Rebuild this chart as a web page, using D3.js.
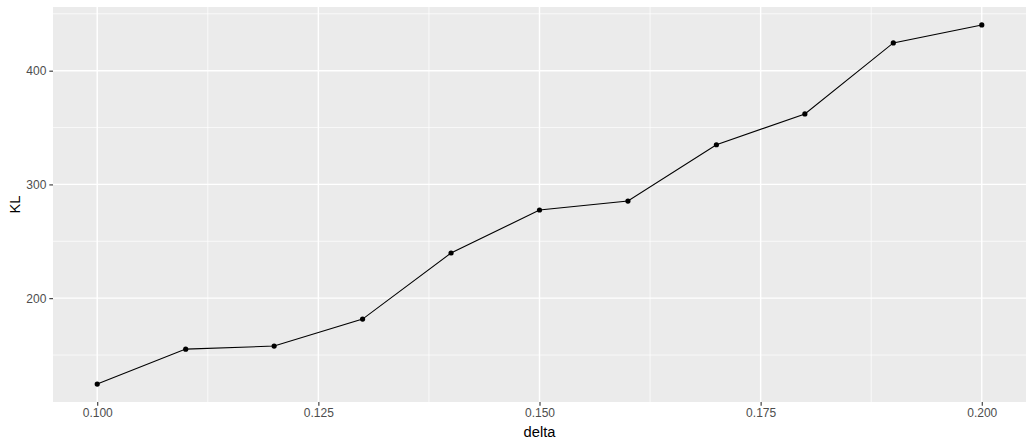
<!DOCTYPE html>
<html>
<head>
<meta charset="utf-8">
<script src="https://cdn.jsdelivr.net/npm/d3@7"></script>
<style>
  body { margin: 0; background: #fff; }
  svg { display: block; }
  text { font-family: "Liberation Sans", Arial, sans-serif; }
</style>
</head>
<body>
<svg id="chart" width="1034" height="447"></svg>
<script>
const delta = [0.10, 0.11, 0.12, 0.13, 0.14, 0.15, 0.16, 0.17, 0.18, 0.19, 0.20];
const KL = [124.5, 155.2, 157.9, 181.6, 239.7, 277.5, 285.4, 334.9, 362.0, 424.4, 440.2];
const xTicks = [0.100, 0.125, 0.150, 0.175, 0.200];
const xMinor = [0.1125, 0.1375, 0.1625, 0.1875];
const yTicks = [200, 300, 400];
const yMinor = [150, 250, 350, 450];

(function () {
const svg = d3.select("#chart");
const pLeft = 53, pRight = 1026, pTop = 7, pBottom = 402;

const xMin = d3.min(delta), xMax = d3.max(delta);
const xPad = (xMax - xMin) * 0.05;
const yMin = d3.min(KL), yMax = d3.max(KL);
const yPad = (yMax - yMin) * 0.05;

const x = d3.scaleLinear().domain([xMin - xPad, xMax + xPad]).range([pLeft, pRight]);
const y = d3.scaleLinear().domain([yMin - yPad, yMax + yPad]).range([pBottom, pTop]);

svg.append("rect").attr("x", pLeft).attr("y", pTop)
  .attr("width", pRight - pLeft).attr("height", pBottom - pTop).attr("fill", "#EBEBEB");

const grid = svg.append("g");
grid.selectAll(".xmin").data(xMinor).join("line")
  .attr("x1", d => x(d)).attr("x2", d => x(d)).attr("y1", pTop).attr("y2", pBottom)
  .attr("stroke", "#fff").attr("stroke-width", 0.7);
grid.selectAll(".ymin").data(yMinor).join("line")
  .attr("y1", d => y(d)).attr("y2", d => y(d)).attr("x1", pLeft).attr("x2", pRight)
  .attr("stroke", "#fff").attr("stroke-width", 0.7);
grid.selectAll(".xmaj").data(xTicks).join("line")
  .attr("x1", d => x(d)).attr("x2", d => x(d)).attr("y1", pTop).attr("y2", pBottom)
  .attr("stroke", "#fff").attr("stroke-width", 1.4);
grid.selectAll(".ymaj").data(yTicks).join("line")
  .attr("y1", d => y(d)).attr("y2", d => y(d)).attr("x1", pLeft).attr("x2", pRight)
  .attr("stroke", "#fff").attr("stroke-width", 1.4);

const xAxis = d3.axisBottom(x).tickValues(xTicks).tickFormat(d3.format(".3f")).tickSize(3.7).tickPadding(3);
const gx = svg.append("g").attr("transform", `translate(0,${pBottom})`).call(xAxis);
gx.select(".domain").remove();
gx.selectAll("line").attr("stroke", "#333").attr("stroke-width", 1.1);
gx.selectAll("text").attr("fill", "#4D4D4D").style("font-size", "12px")
  .style("font-family", "'Liberation Sans', Arial, sans-serif");

const yAxis = d3.axisLeft(y).tickValues(yTicks).tickSize(3.7).tickPadding(3);
const gy = svg.append("g").attr("transform", `translate(${pLeft},0)`).call(yAxis);
gy.select(".domain").remove();
gy.selectAll("line").attr("stroke", "#333").attr("stroke-width", 1.1);
gy.selectAll("text").attr("fill", "#4D4D4D").style("font-size", "12px")
  .style("font-family", "'Liberation Sans', Arial, sans-serif");

const line = d3.line().x((d, i) => x(delta[i])).y(d => y(d));
svg.append("path").datum(KL).attr("d", line)
  .attr("fill", "none").attr("stroke", "#000").attr("stroke-width", 1.07);
svg.selectAll(".pt").data(KL).join("circle")
  .attr("cx", (d, i) => x(delta[i])).attr("cy", d => y(d)).attr("r", 2.6).attr("fill", "#000");

svg.append("text").attr("x", (pLeft + pRight) / 2).attr("y", 437)
  .attr("text-anchor", "middle").style("font-size", "14.7px").attr("fill", "#000").text("delta");
svg.append("text").attr("transform", `translate(20,${(pTop + pBottom) / 2}) rotate(-90)`)
  .attr("text-anchor", "middle").style("font-size", "14.7px").attr("fill", "#000").text("KL");
})();
</script>
</body>
</html>
